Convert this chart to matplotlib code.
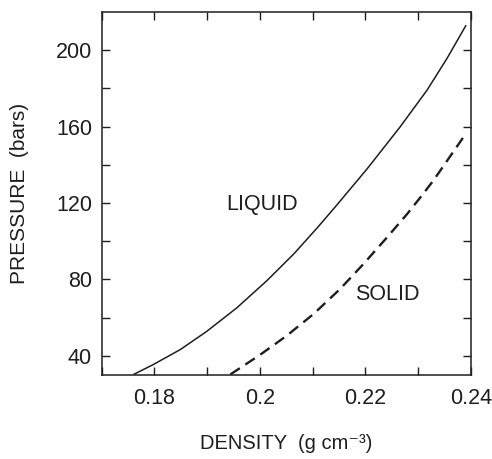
import matplotlib
matplotlib.use("Agg")
import matplotlib.pyplot as plt

plt.rcParams['font.family'] = ['Liberation Sans', 'DejaVu Sans']

# Liquid (solid line) boundary: density (g/cm3), pressure (bars)
liquid_density = [0.1760, 0.1798, 0.1849, 0.1899, 0.1956, 0.2013, 0.2064, 0.2108,
                  0.2146, 0.2203, 0.2266, 0.2317, 0.2355, 0.2391]
liquid_pressure = [30.2, 35.5, 43.3, 52.8, 65.1, 79.3, 93.3, 106.8,
                   119.0, 137.8, 159.9, 179.1, 195.8, 213.1]

# Solid (dashed line) boundary
solid_density = [0.1944, 0.2000, 0.2051, 0.2102, 0.2152, 0.2196, 0.2241, 0.2279,
                 0.2307, 0.2329, 0.2391]
solid_pressure = [30.3, 40.5, 50.6, 62.0, 75.0, 88.0, 102.0, 114.2,
                  123.9, 131.8, 156.5]

x_major = [0.18, 0.20, 0.22, 0.24]
x_major_labels = ["0.18", "0.2", "0.22", "0.24"]
x_minor = [0.17, 0.19, 0.21, 0.23]
y_major = [40, 80, 120, 160, 200]
y_minor = [60, 100, 140, 180]

fig = plt.figure(figsize=(4.92, 4.59), dpi=100)
ax = fig.add_axes([0.2067, 0.183, 0.957 - 0.2067, 0.9739 - 0.183])

ink = '#1e1e1e'
ax.plot(liquid_density, liquid_pressure, color=ink, lw=1.1, solid_capstyle='butt')
ax.plot(solid_density, solid_pressure, color=ink, lw=1.7, dashes=(4.8, 2.8))

ax.set_xlim(0.17, 0.24)
ax.set_ylim(30, 220)

ax.set_xticks(x_major)
ax.set_xticklabels(x_major_labels)
ax.set_xticks(x_minor, minor=True)
ax.set_yticks(y_major)
ax.set_yticks(y_minor, minor=True)

for which in ('major', 'minor'):
    ax.tick_params(axis='both', which=which, direction='in', length=6, width=1.0,
                   top=True, right=True, colors=ink, labelsize=15.5)
ax.tick_params(axis='x', which='major', pad=9)
ax.tick_params(axis='y', which='major', pad=7)
for s in ax.spines.values():
    s.set_linewidth(1.1)
    s.set_color(ink)

ax.text(0.2004, 119.1, "LIQUID", ha='center', va='center', fontsize=15.5, color=ink)
ax.text(0.2241, 72, "SOLID", ha='center', va='center', fontsize=15.5, color=ink)

ax.set_xlabel("DENSITY  (g cm\u207b\u00b3)", fontsize=14.5, color=ink, labelpad=18)
ax.set_ylabel("PRESSURE  (bars)", fontsize=15, color=ink, labelpad=19)

fig.savefig("out.png", dpi=100)
